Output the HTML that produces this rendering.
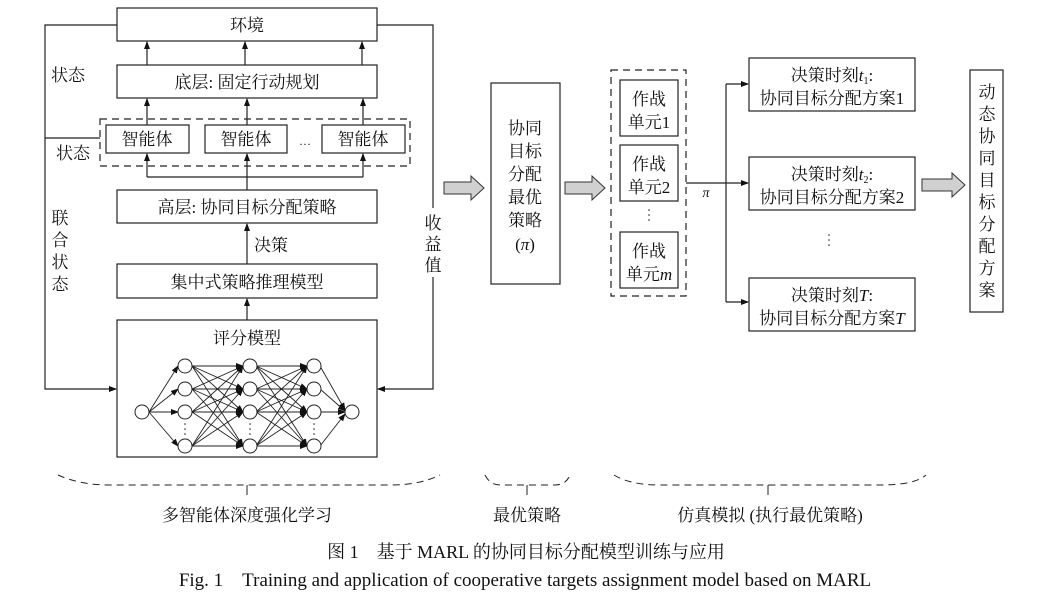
<!DOCTYPE html>
<html><head><meta charset="utf-8"><style>
html,body{margin:0;padding:0;background:#fff;}
svg text{font-family:"Liberation Serif","Noto Serif CJK SC",serif;fill:#111;}
</style></head><body>
<svg width="1050" height="605" viewBox="0 0 1050 605" xmlns="http://www.w3.org/2000/svg">
<defs>
<marker id="a" markerWidth="8" markerHeight="8" refX="7" refY="4" orient="auto" markerUnits="userSpaceOnUse"><path d="M0,1 L8,4 L0,7 Z" fill="#111"/></marker>
</defs>
<g stroke="#222" stroke-width="1.2" fill="none">
<rect x="117" y="8" width="260" height="33"/>
<rect x="117" y="65" width="260" height="33"/>
<rect x="100" y="119" width="310" height="47" stroke-dasharray="7,5"/>
<rect x="106" y="125" width="83" height="28"/>
<rect x="205" y="125" width="82" height="28"/>
<rect x="322" y="125" width="83" height="28"/>
<rect x="117" y="190" width="260" height="33"/>
<rect x="117" y="264" width="260" height="34"/>
<rect x="117" y="320" width="260" height="137"/>
<line x1="147" y1="65" x2="147" y2="42" marker-end="url(#a)"/>
<line x1="245" y1="65" x2="245" y2="42" marker-end="url(#a)"/>
<line x1="362" y1="65" x2="362" y2="42" marker-end="url(#a)"/>
<line x1="147" y1="125" x2="147" y2="99" marker-end="url(#a)"/>
<line x1="247" y1="125" x2="247" y2="99" marker-end="url(#a)"/>
<line x1="363" y1="125" x2="363" y2="99" marker-end="url(#a)"/>
<line x1="247" y1="190" x2="247" y2="154" marker-end="url(#a)"/>
<polyline points="147,177 363,177"/>
<line x1="147" y1="177" x2="147" y2="154" marker-end="url(#a)"/>
<line x1="363" y1="177" x2="363" y2="154" marker-end="url(#a)"/>
<line x1="247" y1="264" x2="247" y2="224" marker-end="url(#a)"/>
<line x1="247" y1="320" x2="247" y2="299" marker-end="url(#a)"/>
<polyline points="117,25 45,25 45,389 116,389" marker-end="url(#a)"/>
<line x1="45" y1="138" x2="100" y2="138"/>
<polyline points="377,25 433,25 433,208"/>
<polyline points="433,277 433,389 378,389" marker-end="url(#a)"/>
<rect x="491" y="83" width="69" height="201"/>
<rect x="611" y="70" width="75" height="226" stroke-dasharray="7,5"/>
<rect x="620" y="80" width="58" height="56"/>
<rect x="620" y="145" width="58" height="56"/>
<rect x="620" y="232" width="58" height="56"/>
<line x1="686" y1="183" x2="726" y2="183"/>
<line x1="726" y1="84" x2="726" y2="302"/>
<line x1="726" y1="84" x2="748" y2="84" marker-end="url(#a)"/>
<line x1="726" y1="183" x2="748" y2="183" marker-end="url(#a)"/>
<line x1="726" y1="302" x2="748" y2="302" marker-end="url(#a)"/>
<rect x="749" y="58" width="166" height="53"/>
<rect x="749" y="157" width="166" height="53"/>
<rect x="749" y="278" width="166" height="53"/>
<rect x="970" y="70" width="33" height="242"/>
</g>
<g fill="#d0d0d0" stroke="#333" stroke-width="1">
<path d="M444,182 L471,182 L471,176 L484,188 L471,200 L471,194 L444,194 Z"/>
<path d="M565,182 L592,182 L592,176 L605,188 L592,200 L592,194 L565,194 Z"/>
<path d="M922,179 L952,179 L952,173 L965,185 L952,197 L952,191 L922,191 Z"/>
</g>
<g stroke="#222" stroke-width="0.9" fill="none">
<line x1="149" y1="412" x2="178" y2="366" marker-end="url(#a)"/>
<line x1="149" y1="412" x2="178" y2="389" marker-end="url(#a)"/>
<line x1="149" y1="412" x2="178" y2="412" marker-end="url(#a)"/>
<line x1="149" y1="412" x2="178" y2="446" marker-end="url(#a)"/>
<g id="L1">
<line x1="192" y1="366" x2="243" y2="366" marker-end="url(#a)"/><line x1="192" y1="366" x2="243" y2="389" marker-end="url(#a)"/><line x1="192" y1="366" x2="243" y2="412" marker-end="url(#a)"/><line x1="192" y1="366" x2="243" y2="446" marker-end="url(#a)"/>
<line x1="192" y1="389" x2="243" y2="366" marker-end="url(#a)"/><line x1="192" y1="389" x2="243" y2="389" marker-end="url(#a)"/><line x1="192" y1="389" x2="243" y2="412" marker-end="url(#a)"/><line x1="192" y1="389" x2="243" y2="446" marker-end="url(#a)"/>
<line x1="192" y1="412" x2="243" y2="366" marker-end="url(#a)"/><line x1="192" y1="412" x2="243" y2="389" marker-end="url(#a)"/><line x1="192" y1="412" x2="243" y2="412" marker-end="url(#a)"/><line x1="192" y1="412" x2="243" y2="446" marker-end="url(#a)"/>
<line x1="192" y1="446" x2="243" y2="366" marker-end="url(#a)"/><line x1="192" y1="446" x2="243" y2="389" marker-end="url(#a)"/><line x1="192" y1="446" x2="243" y2="412" marker-end="url(#a)"/><line x1="192" y1="446" x2="243" y2="446" marker-end="url(#a)"/>
</g>
<use href="#L1" transform="translate(64,0)"/>
<line x1="320" y1="366" x2="345" y2="410" marker-end="url(#a)"/>
<line x1="320" y1="389" x2="345" y2="411" marker-end="url(#a)"/>
<line x1="320" y1="412" x2="345" y2="412" marker-end="url(#a)"/>
<line x1="320" y1="446" x2="345" y2="414" marker-end="url(#a)"/>
</g>
<g fill="#fff" stroke="#222" stroke-width="1">
<circle cx="142" cy="412" r="7"/>
<circle cx="185" cy="366" r="7"/><circle cx="185" cy="389" r="7"/><circle cx="185" cy="412" r="7"/><circle cx="185" cy="446" r="7"/>
<circle cx="250" cy="366" r="7"/><circle cx="250" cy="389" r="7"/><circle cx="250" cy="412" r="7"/><circle cx="250" cy="446" r="7"/>
<circle cx="314" cy="366" r="7"/><circle cx="314" cy="389" r="7"/><circle cx="314" cy="412" r="7"/><circle cx="314" cy="446" r="7"/>
<circle cx="352" cy="412" r="7"/>
</g>
<g fill="#222"><circle cx="185" cy="424" r="0.8"/><circle cx="185" cy="429" r="0.8"/><circle cx="185" cy="434" r="0.8"/>
<circle cx="250" cy="424" r="0.8"/><circle cx="250" cy="429" r="0.8"/><circle cx="250" cy="434" r="0.8"/>
<circle cx="314" cy="424" r="0.8"/><circle cx="314" cy="429" r="0.8"/><circle cx="314" cy="434" r="0.8"/>
<circle cx="649" cy="210" r="0.8"/><circle cx="649" cy="215" r="0.8"/><circle cx="649" cy="220" r="0.8"/>
<circle cx="829" cy="235" r="0.8"/><circle cx="829" cy="240" r="0.8"/><circle cx="829" cy="245" r="0.8"/></g>
<g stroke="#222" stroke-width="1" fill="none" stroke-dasharray="7,5">
<path d="M58,475 Q80,485 110,485 L390,485 Q420,485 440,475"/>
<path d="M485,475 Q490,485 500,485 L555,485 Q566,485 570,475"/>
<path d="M614,475 Q630,485 660,485 L880,485 Q915,485 926,475"/>
</g>
<g stroke="#222" stroke-width="1"><line x1="247" y1="485" x2="247" y2="495"/><line x1="527" y1="485" x2="527" y2="495"/><line x1="768" y1="485" x2="768" y2="495"/></g>
<g font-size="17" text-anchor="middle">
<text x="247" y="31">环境</text>
<text x="247" y="88">底层: 固定行动规划</text>
<text x="147" y="145">智能体</text>
<text x="246" y="145">智能体</text>
<text x="305" y="145" font-size="12">…</text>
<text x="363" y="145">智能体</text>
<text x="247" y="213">高层: 协同目标分配策略</text>
<text x="271" y="251">决策</text>
<text x="247" y="288">集中式策略推理模型</text>
<text x="247" y="344">评分模型</text>
<text x="68" y="81">状态</text>
<text x="73" y="159">状态</text>
<text x="60" y="224">联</text><text x="60" y="246">合</text><text x="60" y="268">状</text><text x="60" y="290">态</text>
<text x="433" y="229">收</text><text x="433" y="250">益</text><text x="433" y="271">值</text>
<text x="525" y="134">协同</text><text x="525" y="157">目标</text><text x="525" y="180">分配</text><text x="525" y="203">最优</text><text x="525" y="226">策略</text><text x="525" y="250">(<tspan font-style="italic">π</tspan>)</text>
<text x="649" y="105">作战</text><text x="649" y="128">单元1</text>
<text x="649" y="170">作战</text><text x="649" y="193">单元2</text>
<text x="649" y="257">作战</text><text x="649" y="280">单元<tspan font-style="italic">m</tspan></text>
<text x="706" y="197" font-size="14" font-style="italic">π</text>
<text x="832" y="81">决策时刻<tspan font-style="italic">t</tspan><tspan font-size="10" dy="3">1</tspan><tspan dy="-3">:</tspan></text>
<text x="832" y="104">协同目标分配方案1</text>
<text x="832" y="180">决策时刻<tspan font-style="italic">t</tspan><tspan font-size="10" dy="3">2</tspan><tspan dy="-3">:</tspan></text>
<text x="832" y="203">协同目标分配方案2</text>
<text x="832" y="301">决策时刻<tspan font-style="italic">T</tspan>:</text>
<text x="832" y="324">协同目标分配方案<tspan font-style="italic">T</tspan></text>
<text x="987" y="98">动</text><text x="987" y="120">态</text><text x="987" y="142">协</text><text x="987" y="164">同</text><text x="987" y="186">目</text><text x="987" y="208">标</text><text x="987" y="230">分</text><text x="987" y="252">配</text><text x="987" y="274">方</text><text x="987" y="296">案</text>
<text x="247" y="521">多智能体深度强化学习</text>
<text x="527" y="521">最优策略</text>
<text x="770" y="521">仿真模拟 (执行最优策略)</text>
<text x="526" y="558" font-size="18">图 1　基于 MARL 的协同目标分配模型训练与应用</text>
<text x="525" y="586" font-size="19">Fig. 1　Training and application of cooperative targets assignment model based on MARL</text>
</g>
</svg>
</body></html>
